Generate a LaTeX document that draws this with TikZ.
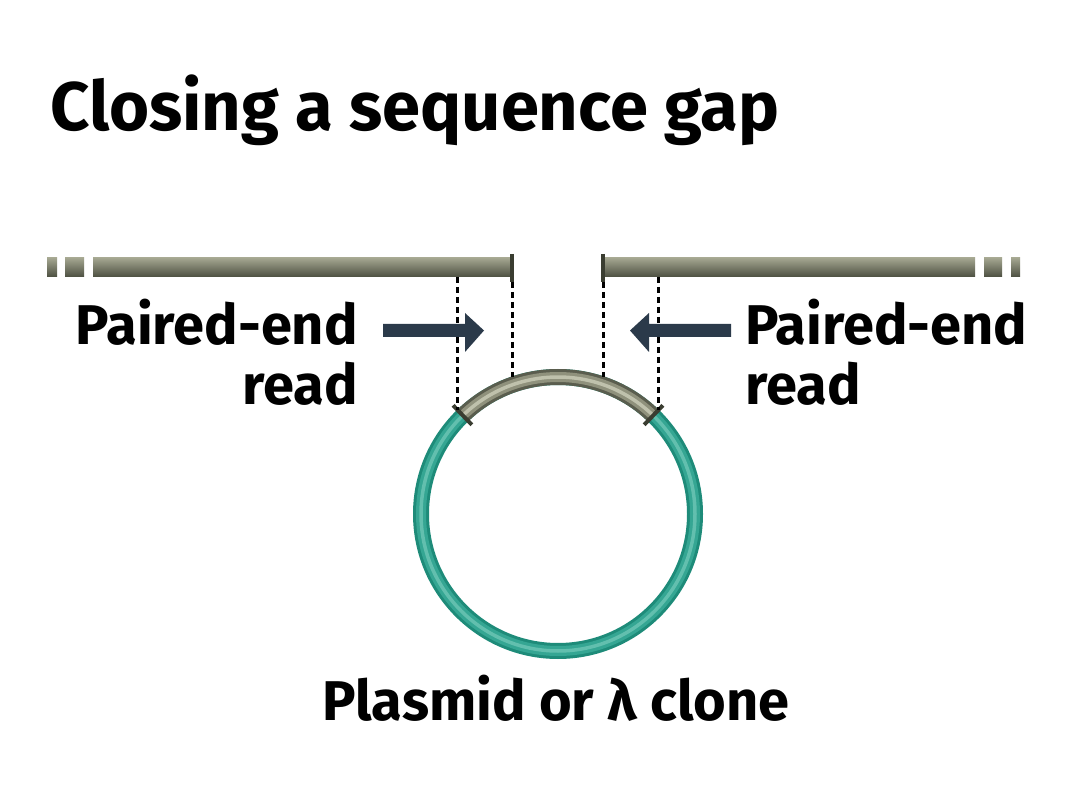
\documentclass[tikz,border=0pt]{standalone}
\usepackage{fontspec}
\setmainfont{Fira Sans}
\definecolor{barTop}{HTML}{A4A690}
\definecolor{barMid}{HTML}{C9CBB6}
\definecolor{barBot}{HTML}{4C4F41}
\definecolor{capCol}{HTML}{3A3D31}
\definecolor{tealDark}{HTML}{1E8B79}
\definecolor{tealMid}{HTML}{35A693}
\definecolor{tealLight}{HTML}{62BFAE}
\definecolor{grayDark}{HTML}{5A5D4E}
\definecolor{grayMid}{HTML}{8F917C}
\definecolor{grayLight}{HTML}{BFC1AC}
\definecolor{arrowCol}{HTML}{2B3A4A}
\tikzset{
  barseg/.style={top color=barTop, middle color=barMid, bottom color=barBot},
  endcap/.style={draw=capCol, line width=4pt},
  guide/.style={draw=black, line width=3pt, dash pattern=on 6pt off 4pt},
  title/.style={font=\fontsize{68.7}{80}\selectfont\bfseries, inner sep=0pt},
  label/.style={font=\fontsize{56}{66}\selectfont\bfseries, inner sep=0pt},
  readarrow/.style={fill=arrowCol, draw=none},
  tickmark/.style={draw=capCol, line width=4pt},
}
\begin{document}
\begin{tikzpicture}[x=1pt,y=-1pt]
\useasboundingbox (0,0) rectangle (1080,810);
\fill[white] (0,0) rectangle (1080,810);

% title
\node[title, anchor=base west] (title) at (50,131) {Closing a sequence gap};

% left contig
\shade[barseg] (47,258) rectangle (57,277);
\shade[barseg] (65,258) rectangle (84,277);
\shade[barseg] (93,258) rectangle (511,277);
\coordinate (lcapT) at (512,254);
\coordinate (lcapB) at (512,282);
\draw[endcap] (lcapT) -- (lcapB);

% right contig
\shade[barseg] (605,258) rectangle (975,277);
\shade[barseg] (984,258) rectangle (1002,277);
\shade[barseg] (1011,258) rectangle (1020,277);
\coordinate (rcapT) at (603,254);
\coordinate (rcapB) at (603,282);
\draw[endcap] (rcapT) -- (rcapB);

% clone circle
\coordinate (cc) at (558,514);
\draw[tealDark, line width=16pt] (cc) circle[radius=137];
\draw[tealMid, line width=10pt] (cc) circle[radius=137];
\draw[tealLight, line width=3.5pt] (cc) circle[radius=137];
% gray insert arc (y axis points down, so angles are negative)
\draw[grayDark, line width=16pt] ([shift={(-134:137)}]cc) arc[start angle=-134, end angle=-46, radius=137];
\draw[grayMid, line width=10pt] ([shift={(-134:137)}]cc) arc[start angle=-134, end angle=-46, radius=137];
\draw[grayLight, line width=3.5pt] ([shift={(-134:137)}]cc) arc[start angle=-134, end angle=-46, radius=137];
% ticks at insert ends
\coordinate (tlA) at ([shift={(-134:124)}]cc);
\coordinate (tlB) at ([shift={(-134:151)}]cc);
\coordinate (trA) at ([shift={(-46:124)}]cc);
\coordinate (trB) at ([shift={(-46:151)}]cc);
\draw[tickmark] (tlA) -- (tlB);
\draw[tickmark] (trA) -- (trB);

% dotted guides
\coordinate (gl1t) at (457,277);
\coordinate (gl1b) at (457,410);
\coordinate (gl2b) at (512,377);
\coordinate (gr2b) at (603,377);
\coordinate (gr1t) at (658,277);
\coordinate (gr1b) at (658,410);
\draw[guide] (gl1t) -- (gl1b);
\draw[guide] (lcapB) -- (gl2b);
\draw[guide] (rcapB) -- (gr2b);
\draw[guide] (gr1t) -- (gr1b);

% read arrows
\fill[readarrow] (383,324) -- (465,324) -- (465,313) -- (484,330.5) -- (465,352) -- (465,337) -- (383,337) -- cycle;
\fill[readarrow] (731,324) -- (649,324) -- (649,313) -- (630,330.5) -- (649,352) -- (649,337) -- (731,337) -- cycle;

% labels
\node[label, anchor=base east] (pl1) at (358,345) {Paired-end};
\node[label, anchor=base east] (pl2) at (358,405) {read};
\node[label, anchor=base west] (pr1) at (745,345) {Paired-end};
\node[label, anchor=base west] (pr2) at (745,405) {read};
\node[label, anchor=base] (clone) at (556,720) {Plasmid or λ clone};
\end{tikzpicture}
\end{document}
